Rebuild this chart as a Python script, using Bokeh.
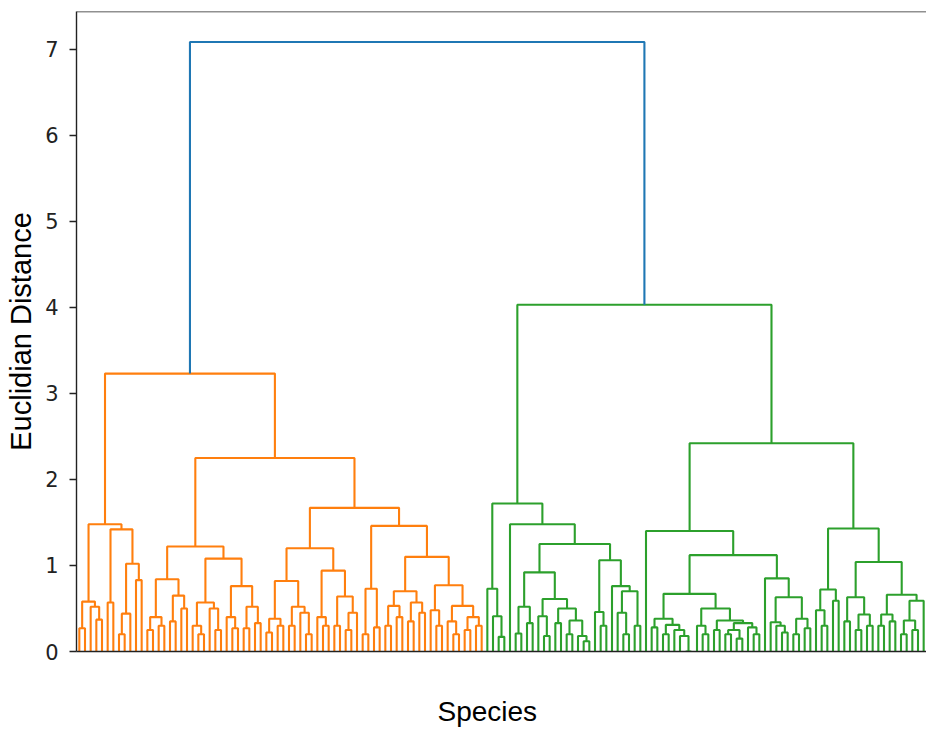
from bokeh.plotting import figure
from bokeh.models import Range1d, Span, Title, FixedTicker
from bokeh.embed import file_html
from bokeh.resources import INLINE

L = 0  # a single leaf (species sample)

# ---- tree: (merge height, left subtree, right subtree) ----
ORANGE_A = (1.48, (0.58, (0.27, L, L), (0.52, L, (0.37, L, L))),
                  (1.42, (0.57, L, L), (1.02, (0.44, (0.20, L, L), L), (0.83, L, L))))
ORANGE_B1 = (1.22, (0.84, (0.40, (0.25, L, L), (0.30, L, L)), (0.65, (0.35, L, L), (0.50, L, L))),
                   (1.08, (0.57, (0.30, L, (0.20, L, L)), (0.50, L, (0.25, L, L))),
                          (0.76, (0.40, L, (0.27, L, L)), (0.52, (0.27, L, L), (0.33, L, L)))))
ORANGE_B2L = (1.20, (0.82, (0.38, (0.22, L, L), (0.30, L, L)), (0.52, (0.30, L, L), (0.45, L, (0.20, L, L)))),
                    (0.94, (0.40, L, (0.30, L, L)), (0.64, (0.30, L, L), (0.45, (0.25, L, L), L))))
ORANGE_B2R = (1.46, (0.73, (0.20, L, L), (0.28, L, L)),
                    (1.10, (0.70, (0.53, (0.30, L, L), (0.40, L, L)), (0.57, (0.35, L, L), (0.45, L, L))),
                           (0.77, (0.48, L, (0.30, L, L)),
                                  (0.53, (0.35, L, (0.20, L, L)), (0.40, (0.25, L, L), (0.30, L, L))))))
ORANGE_HEIGHTS = [3.23, 2.25, 1.67]   # top of orange, B, B2

GREEN_1A = (0.73, L, (0.41, L, (0.17, L, L)))
GREEN_1CL = (0.92, (0.52, (0.21, L, L), (0.33, L, L)),
                   (0.61, (0.41, L, (0.18, L, L)),
                          (0.50, (0.33, L, L), (0.36, (0.20, L, L), (0.18, L, (0.12, L, L))))))
GREEN_1CR = (1.06, (0.46, L, (0.30, L, L)), (0.76, L, (0.70, (0.45, L, (0.20, L, L)), (0.30, L, L))))
GREEN_1_HEIGHTS = [1.72, 1.48, 1.25]
GREEN_2LRL = (0.67, (0.38, (0.28, L, L), (0.31, (0.20, L, L), (0.25, L, (0.18, L, (0.0, L, L))))),
                    (0.50, (0.30, L, (0.20, L, L)),
                           (0.36, (0.25, L, L), (0.33, (0.25, (0.20, L, L), (0.15, L, L)), (0.28, L, (0.20, L, L))))))
GREEN_2LRR = (0.85, L, (0.63, (0.34, L, (0.30, L, (0.22, L, L))), (0.38, (0.20, L, L), (0.27, L, L))))
GREEN_2R = (1.43, (0.72, (0.48, L, (0.30, L, L)), (0.59, L, L)),
                  (1.04, (0.63, (0.35, L, L), (0.43, (0.25, L, L), (0.30, L, L))),
                         (0.66, (0.43, (0.30, L, L), (0.35, L, L)), (0.59, (0.36, (0.20, L, L), (0.25, L, L)), L))))
GREEN_2_HEIGHTS = [2.42, 1.40, 1.12]
GREEN_HEIGHT = 4.03
TOP_HEIGHT = 7.085

Y_TICKS = [0, 1, 2, 3, 4, 5, 6, 7]
COLORS = {"orange": "#ff7f0e", "green": "#2ca02c", "top": "#1f77b4"}

ORANGE = (ORANGE_HEIGHTS[0], ORANGE_A, (ORANGE_HEIGHTS[1], ORANGE_B1, (ORANGE_HEIGHTS[2], ORANGE_B2L, ORANGE_B2R)))
GREEN_1 = (GREEN_1_HEIGHTS[0], GREEN_1A, (GREEN_1_HEIGHTS[1], L, (GREEN_1_HEIGHTS[2], GREEN_1CL, GREEN_1CR)))
GREEN_2 = (GREEN_2_HEIGHTS[0], (GREEN_2_HEIGHTS[1], L, (GREEN_2_HEIGHTS[2], GREEN_2LRL, GREEN_2LRR)), GREEN_2R)
GREEN = (GREEN_HEIGHT, GREEN_1, GREEN_2)


def layout(node, start, xs, ys):
    if not isinstance(node, tuple):
        return 10 * start + 5, 0.0, start + 1
    h, left, right = node
    xl, hl, s = layout(left, start, xs, ys)
    xr, hr, s = layout(right, s, xs, ys)
    xs.append([xl, xl, xr, xr])
    ys.append([hl, h, h, hr])
    return (xl + xr) / 2, h, s


oxs, oys = [], []
ox, oh, nxt = layout(ORANGE, 0, oxs, oys)
gxs, gys = [], []
gx, gh, n_leaves = layout(GREEN, nxt, gxs, gys)

p = figure(width=926, height=729, x_range=Range1d(0, 10 * n_leaves), y_range=Range1d(0, TOP_HEIGHT * 1.05),
           output_backend="svg", toolbar_location=None,
           min_border_left=76, min_border_right=0, min_border_top=11, min_border_bottom=78)
p.background_fill_color = "white"
p.border_fill_color = "white"
p.outline_line_color = None
p.xgrid.visible = False
p.ygrid.visible = False

p.multi_line(oxs, oys, line_color=COLORS["orange"], line_width=2.1)
p.multi_line(gxs, gys, line_color=COLORS["green"], line_width=2.1)
p.line([ox, ox, gx, gx], [oh, TOP_HEIGHT, TOP_HEIGHT, gh], line_color=COLORS["top"], line_width=2.1)

p.add_layout(Span(location=TOP_HEIGHT * 1.05, dimension="width", line_color="#222222", line_width=1.4))

p.yaxis.ticker = FixedTicker(ticks=Y_TICKS)
p.yaxis.minor_tick_line_color = None
p.yaxis.major_tick_in = 0
p.yaxis.major_tick_out = 7
p.yaxis.major_tick_line_width = 1.3
p.yaxis.axis_line_width = 1.4
p.yaxis.axis_line_color = "#222222"
p.yaxis.major_tick_line_color = "#222222"
p.yaxis.major_label_text_font = "DejaVu Sans"
p.yaxis.major_label_text_font_size = "21px"
p.yaxis.major_label_text_color = "#222222"
p.yaxis.major_label_standoff = 11
p.yaxis.axis_label = "Euclidian Distance"
p.yaxis.axis_label_text_font = "Liberation Sans"
p.yaxis.axis_label_text_font_style = "normal"
p.yaxis.axis_label_text_font_size = "29px"
p.yaxis.axis_label_text_color = "#000000"
p.yaxis.axis_label_standoff = 5

# bottom spine only: one invisible tick keeps a gap under the frame for the "Species" title
p.xaxis.ticker = FixedTicker(ticks=[10 * n_leaves / 2])
p.xaxis.major_label_overrides = {10 * n_leaves / 2: ""}
p.xaxis.major_label_text_font_size = "0px"
p.xaxis.major_tick_line_color = None
p.xaxis.minor_tick_line_color = None
p.xaxis.major_tick_out = 42
p.xaxis.major_tick_in = 0
p.xaxis.major_label_standoff = 0
p.xaxis.axis_line_width = 1.4
p.xaxis.axis_line_color = "#222222"

p.add_layout(Title(text="Species", align="left", offset=361, standoff=0,
                   text_font="Liberation Sans", text_font_style="normal",
                   text_font_size="28px", text_color="#000000"), "below")

open("out.html", "w").write(file_html(p, INLINE))
